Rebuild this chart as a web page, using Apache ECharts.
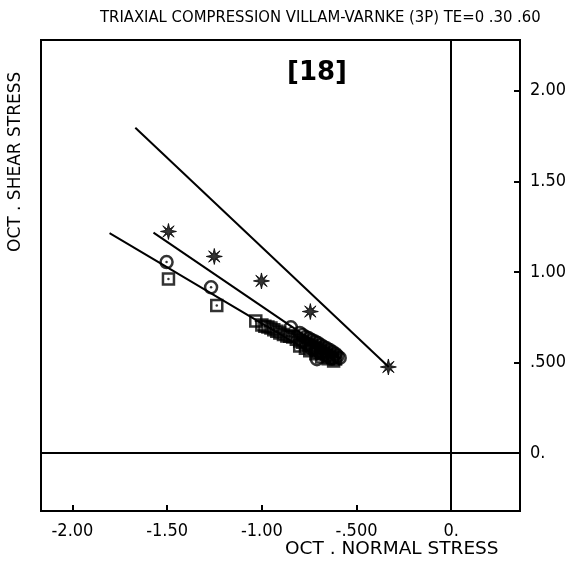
<!DOCTYPE html>
<html>
<head>
<meta charset="utf-8">
<script src="https://cdn.jsdelivr.net/npm/echarts@6/dist/echarts.min.js"></script>
<style>html,body{margin:0;padding:0;background:#fff}#c{width:581px;height:575px}</style>
</head>
<body>
<div id="c"></div>
<script>
// ---- data ----
var titleText = 'TRIAXIAL COMPRESSION VILLAM-VARNKE (3P) TE=0 .30 .60';
var xName = 'OCT . NORMAL STRESS';
var yName = 'OCT . SHEAR STRESS';
var panelTag = '[18]';
var xTicks = [-2, -1.5, -1, -0.5, 0];
var xTickLabels = ['-2.00', '-1.50', '-1.00', '-.500', '0.'];
var yTicks = [0, 0.5, 1, 1.5, 2];
var yTickLabels = ['0.', '.500', '1.00', '1.50', '2.00'];

var line1 = [[-1.668, 1.796], [-0.33, 0.475]];
var line2 = [[-1.572, 1.217], [-0.60, 0.525]];
var line3 = [[-1.804, 1.214], [-0.66, 0.505]];

var stars = [[-1.493, 1.223], [-1.251, 1.085], [-1.002, 0.950], [-0.744, 0.781], [-0.332, 0.475]];

var squares = [[-1.493, 0.961], [-1.238, 0.814],
  [-1.032, 0.729], [-1.000, 0.707], [-0.968, 0.696], [-0.937, 0.680], [-0.905, 0.663],
  [-0.868, 0.646], [-0.837, 0.641], [-0.800, 0.619], [-0.768, 0.602], [-0.737, 0.591],
  [-0.705, 0.575], [-0.674, 0.558], [-0.642, 0.536], [-0.611, 0.519], [-0.800, 0.591],
  [-0.747, 0.564], [-0.684, 0.530], [-0.621, 0.508],
  [-0.984, 0.700], [-0.952, 0.690], [-0.921, 0.672], [-0.886, 0.655], [-0.853, 0.644],
  [-0.818, 0.628], [-0.784, 0.611], [-0.752, 0.596], [-0.720, 0.583], [-0.690, 0.566],
  [-0.658, 0.547], [-0.626, 0.528], [-0.770, 0.578], [-0.715, 0.548], [-0.650, 0.520]];

var circles = [[-1.503, 1.054], [-1.268, 0.915], [-0.847, 0.694], [-0.709, 0.518],
  [-0.800, 0.663], [-0.768, 0.641], [-0.737, 0.624], [-0.705, 0.608], [-0.674, 0.586],
  [-0.642, 0.569], [-0.611, 0.547], [-0.589, 0.525], [-0.716, 0.558], [-0.653, 0.536],
  [-0.785, 0.652], [-0.752, 0.633], [-0.720, 0.616], [-0.690, 0.597], [-0.658, 0.578],
  [-0.626, 0.558], [-0.600, 0.535], [-0.735, 0.575], [-0.690, 0.550], [-0.630, 0.522]];

// ---- chart ----
var FONT = '"Liberation Sans Narrow", "DejaVu Sans Condensed", "Liberation Sans", sans-serif';
var starPath = 'path://M10,0L11.6,7.0L17.1,2.9L13.0,8.4L20,10L13.0,11.6L17.1,17.1L11.6,13.0L10,20L8.4,13.0L2.9,17.1L7.0,11.6L0,10L7.0,8.4L2.9,2.9L8.4,7.0Z';

function fmt(ticks, labels) {
  return function (v) {
    for (var i = 0; i < ticks.length; i++) if (Math.abs(ticks[i] - v) < 1e-6) return labels[i];
    return '';
  };
}

var chart = echarts.init(document.getElementById('c'), null, {renderer: 'canvas'});
var lineStyle = {color: '#000', width: 2};
chart.setOption({
  backgroundColor: '#fff',
  animation: false,
  grid: {left: 41, right: 61, top: 40, bottom: 64, show: true, borderColor: '#000', borderWidth: 2, backgroundColor: 'transparent'},
  xAxis: {
    type: 'value', min: -2.166, max: 0.363,
    splitLine: {show: false},
    axisLine: {show: true, onZero: false, lineStyle: {color: '#000', width: 2}},
    axisTick: {show: true, inside: true, length: 6, customValues: xTicks, lineStyle: {color: '#000', width: 2}},
    axisLabel: {show: true, customValues: xTicks, formatter: fmt(xTicks, xTickLabels), color: '#000', fontFamily: FONT, fontSize: 18, margin: 11}
  },
  yAxis: {
    type: 'value', min: -0.32, max: 2.28, position: 'right',
    splitLine: {show: false},
    axisLine: {show: true, onZero: false, lineStyle: {color: '#000', width: 2}},
    axisTick: {show: true, inside: true, length: 6, customValues: yTicks, lineStyle: {color: '#000', width: 2}},
    axisLabel: {show: true, customValues: yTicks, formatter: fmt(yTicks, yTickLabels), color: '#000', fontFamily: FONT, fontSize: 18, margin: 10}
  },
  graphic: [
    {type: 'text', left: 100, top: 9, style: {text: titleText, font: '16.5px ' + FONT, fill: '#000'}},
    {type: 'text', left: 285, top: 540, style: {text: xName, font: '18.5px "DejaVu Sans"', fill: '#000'}},
    {type: 'text', x: 7, y: 252, rotation: Math.PI / 2, style: {text: yName, font: '17px "DejaVu Sans"', fill: '#000', align: 'left', verticalAlign: 'top'}},
    {type: 'text', left: 287, top: 60, style: {text: panelTag, font: 'bold 26px "DejaVu Sans"', fill: '#000'}}
  ],
  series: [
    {type: 'line', data: line1, symbol: 'none', lineStyle: lineStyle, silent: true,
      markLine: {silent: true, symbol: 'none', label: {show: false}, lineStyle: {color: '#000', width: 2, type: 'solid'},
        data: [{xAxis: 0}, {yAxis: 0}]}},
    {type: 'line', data: line2, symbol: 'none', lineStyle: lineStyle, silent: true},
    {type: 'line', data: line3, symbol: 'none', lineStyle: lineStyle, silent: true},
    {type: 'scatter', data: stars, symbol: starPath, symbolSize: 16, itemStyle: {color: '#000', borderColor: '#000', borderWidth: 1}},
    {type: 'scatter', data: squares, symbol: 'rect', symbolSize: 11, itemStyle: {color: 'rgba(0,0,0,0)', borderColor: '#000', borderWidth: 2.5}},
    {type: 'scatter', data: circles, symbol: 'circle', symbolSize: 12, itemStyle: {color: 'rgba(0,0,0,0)', borderColor: '#000', borderWidth: 2.5}},
    {type: 'scatter', data: squares.concat(circles), symbol: 'circle', symbolSize: 2.5, itemStyle: {color: '#000'}}
  ]
});
</script>
</body>
</html>
